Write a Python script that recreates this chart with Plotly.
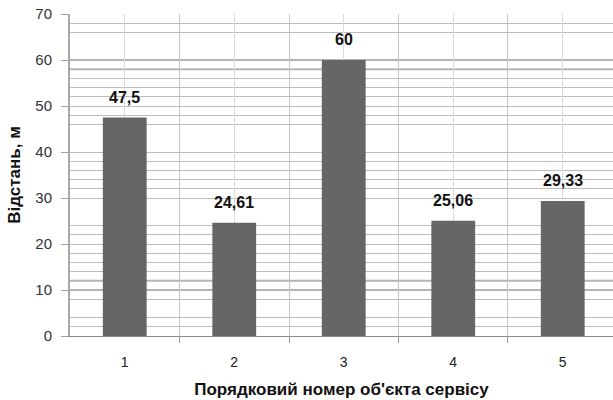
import plotly.graph_objects as go

# Service objects and their distances (m)
categories = [1, 2, 3, 4, 5]
distances = [47.5, 24.61, 60, 25.06, 29.33]
y_ticks = [0, 10, 20, 30, 40, 50, 60, 70]
x_title = "Порядковий номер об'єкта сервісу"
y_title = "Відстань, м"

# horizontal helper lines
thin_grid = [2, 4, 8, 14, 16, 18, 20, 22, 24, 30, 32, 34, 36, 38, 40,
             46, 48, 50, 52, 54, 56, 66, 68, 70]
thick_grid = [10, 12, 58, 60]

labels = [f"{v:g}".replace(".", ",") for v in distances]

FONT = "Liberation Sans"

fig = go.Figure(
    go.Bar(
        x=categories,
        y=distances,
        width=0.4,
        marker=dict(color="#666666", line=dict(width=0)),
        hoverinfo="x+y",
    )
)

# value labels above the bars
for c, v, t in zip(categories, distances, labels):
    fig.add_annotation(x=c, y=v, text=f"<b>{t}</b>", showarrow=False,
                       xanchor="center", yanchor="bottom", yshift=10,
                       font=dict(family=FONT, size=16, color="#111111"))

for v in thick_grid:
    fig.add_shape(type="line", xref="paper", x0=0, x1=1, yref="y", y0=v, y1=v,
                  line=dict(color="#b4b4b4", width=2), layer="below")

fig.update_layout(
    width=613,
    height=400,
    margin=dict(l=70, r=0, t=14, b=64),
    paper_bgcolor="white",
    plot_bgcolor="white",
    showlegend=False,
    font=dict(family=FONT, color="#222222"),
)

fig.update_xaxes(
    range=[0.5, 5.459],
    tickvals=categories,
    ticktext=[str(c) for c in categories],
    tickfont=dict(size=14, color="#222222"),
    ticklabelstandoff=13,
    showgrid=True,
    gridcolor="#dcdcdc",
    gridwidth=1,
    ticks="",
    showline=True,
    linecolor="#8a8a8a",
    linewidth=1,
    zeroline=False,
    minor=dict(tickvals=[1.5, 2.5, 3.5, 4.5, 5.5], showgrid=True,
               gridcolor="#c4c4c4", gridwidth=1, ticks="outside",
               ticklen=6, tickcolor="#a0a0a0"),
    title=dict(text=f"<b>{x_title}</b>", font=dict(size=17, color="#111111"),
               standoff=14),
    fixedrange=True,
)

fig.update_yaxes(
    range=[0, 70],
    tickvals=y_ticks,
    tickfont=dict(size=15, color="#333333"),
    ticklabelstandoff=6,
    showgrid=False,
    ticks="outside",
    ticklen=7,
    tickcolor="#a0a0a0",
    showline=True,
    linecolor="#a8a8a8",
    linewidth=2,
    zeroline=False,
    minor=dict(tickvals=thin_grid, showgrid=True, gridcolor="#bcbcbc",
               gridwidth=1, ticks=""),
    title=dict(text=f"<b>{y_title}</b>", font=dict(size=17, color="#111111"),
               standoff=10),
    fixedrange=True,
)

fig.write_html("out.html")
